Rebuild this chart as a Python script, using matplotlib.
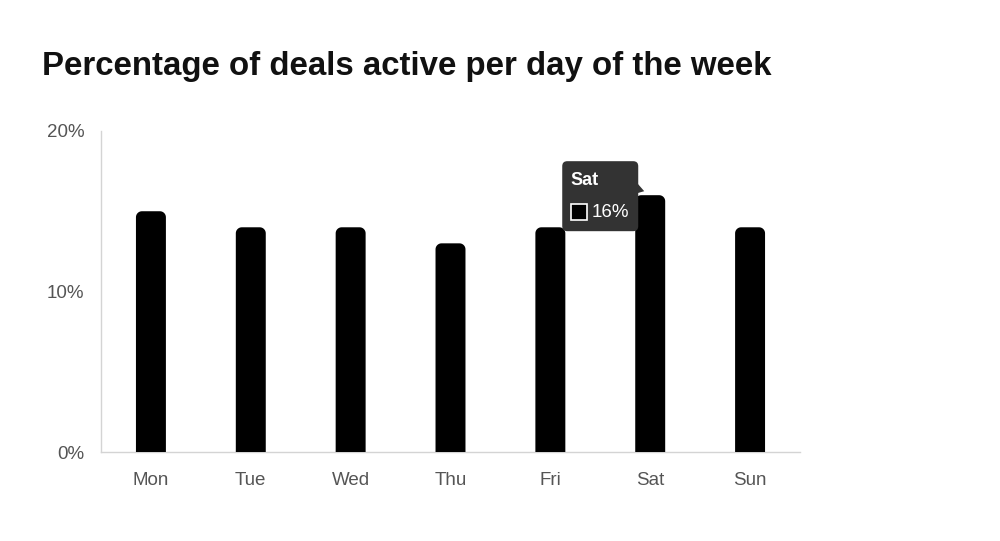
import numpy as np
import matplotlib
matplotlib.use("Agg")
import matplotlib.pyplot as plt
from matplotlib.patches import FancyBboxPatch, Rectangle, Polygon, PathPatch
from matplotlib.path import Path
from matplotlib.transforms import IdentityTransform

days = ["Mon", "Tue", "Wed", "Thu", "Fri", "Sat", "Sun"]
share_pct = [15, 14, 14, 13, 14, 16, 14]
y_ticks = [0, 10, 20]
y_tick_labels = ["0%", "10%", "20%"]
highlight_day = "Sat"

plt.rcParams["font.family"] = ["Liberation Sans", "DejaVu Sans"]

fig = plt.figure(figsize=(10, 5.41), dpi=100)
ax = fig.add_axes([0.101, 0.1645, 0.699, 0.5934])
ax.set_xlim(-0.5, len(days) - 0.5)
ax.set_ylim(0, 20)

bar_w = 0.3
px_per_x = ax.bbox.width / (ax.get_xlim()[1] - ax.get_xlim()[0])
px_per_y = ax.bbox.height / (ax.get_ylim()[1] - ax.get_ylim()[0])
r_px = 6
rx, ry = r_px / px_per_x, r_px / px_per_y


def rounded_top_bar(xc, h):
    """Bar outline with square base and rounded top corners."""
    x0, x1 = xc - bar_w / 2, xc + bar_w / 2
    t = np.linspace(0, np.pi / 2, 12)
    verts = [(x0, 0), (x1, 0), (x1, h - ry)]
    verts += [(x1 - rx + rx * np.cos(a), h - ry + ry * np.sin(a)) for a in t]
    verts += [(x0 + rx - rx * np.sin(a), h - ry + ry * np.cos(a)) for a in t]
    verts += [(x0, h - ry), (x0, 0)]
    codes = [Path.MOVETO] + [Path.LINETO] * (len(verts) - 2) + [Path.CLOSEPOLY]
    return Path(verts, codes)


for i, v in enumerate(share_pct):
    ax.add_patch(PathPatch(rounded_top_bar(i, v), fc="black", ec="none", zorder=3))

ax.set_xticks(range(len(days)))
ax.set_xticklabels(days)
ax.set_yticks(y_ticks)
ax.set_yticklabels(y_tick_labels)
ax.tick_params(axis="both", length=0, colors="#555555", labelsize=13.5)
ax.tick_params(axis="x", pad=14.5)
ax.tick_params(axis="y", pad=12)
for s in ["top", "right"]:
    ax.spines[s].set_visible(False)
for s in ["left", "bottom"]:
    ax.spines[s].set_color("#d4d4d4")
    ax.spines[s].set_linewidth(1)

fig.text(0.042, 1 - 75 / 541, "Percentage of deals active per day of the week",
         fontsize=23.8, fontweight="bold", color="#111111", va="baseline", ha="left")

# tooltip next to the highlighted bar
hi = days.index(highlight_day)
ax_x, ax_y = ax.transData.transform((hi - bar_w / 2, share_pct[hi]))
W, H = fig.bbox.width, fig.bbox.height
left, right = ax_x - 73, ax_x + 3
top, bottom = ax_y + 34, ax_y - 36
tip = FancyBboxPatch((left, bottom), right - left, top - bottom,
                     boxstyle="round,pad=0,rounding_size=5",
                     fc="#333333", ec="none", transform=IdentityTransform(),
                     zorder=5)
fig.add_artist(tip)
caret = Polygon([(right - 1, top - 22), (right + 6, top - 30), (right - 1, top - 32)],
                closed=True, fc="#333333", ec="none",
                transform=IdentityTransform(), zorder=5)
fig.add_artist(caret)
fig.text((left + 8) / W, (top - 19) / H, highlight_day,
         color="white", fontsize=13, fontweight="bold", va="center", ha="left",
         zorder=6)
sq = Rectangle((left + 9, top - 59), 16, 16, fc="black", ec="white", lw=1.2,
               transform=IdentityTransform(), zorder=6)
fig.add_artist(sq)
fig.text((left + 29) / W, (top - 51) / H, f"{share_pct[hi]}%",
         color="white", fontsize=13.5, va="center", ha="left", zorder=6)

fig.savefig("out.png", dpi=100)
